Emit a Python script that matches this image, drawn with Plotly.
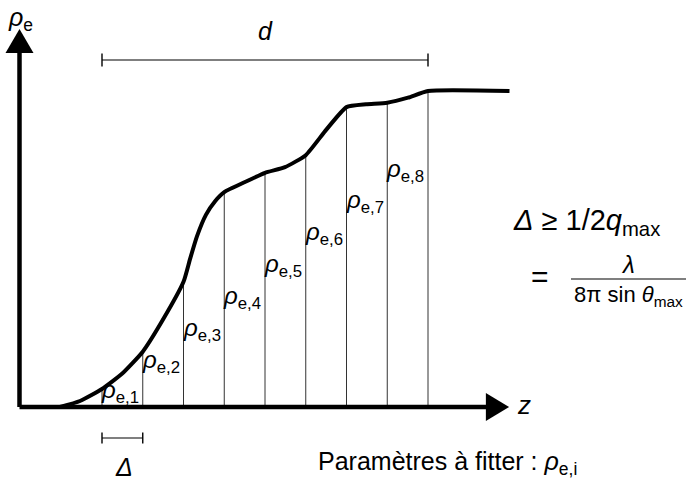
import plotly.graph_objects as go

# ---------------- data (z in slice units, rho normalised to plateau) ----------------
z_curve = [-1.03, -0.54, 0.0, 0.49, 1.0, 1.49, 2.0, 2.16, 2.33, 2.55, 2.78, 3.0,
           3.51, 4.0, 4.49, 5.0, 5.50, 6.0, 6.48, 7.0, 7.51, 8.0, 10.0]
rho_curve = [0.0, 0.019, 0.057, 0.105, 0.175, 0.275, 0.396, 0.468, 0.540, 0.608,
             0.652, 0.680, 0.712, 0.741, 0.759, 0.797, 0.877, 0.949, 0.958, 0.963,
             0.979, 1.0, 1.0]
slice_bounds = [0, 1, 2, 3, 4, 5, 6, 7, 8]
slice_labels = ["e,1", "e,2", "e,3", "e,4", "e,5", "e,6", "e,7", "e,8"]

W, H = 688, 483
Z_PX0, Z_SCALE = 102.0, 40.75
R_PX0, R_SCALE = 407.0, 316.0
xr = [(0 - Z_PX0) / Z_SCALE, (W - Z_PX0) / Z_SCALE]
yr = [(R_PX0 - H) / R_SCALE, R_PX0 / R_SCALE]

def px(x):
    return x / W

def py(y):
    return 1 - y / H

FONT = "Liberation Sans, DejaVu Sans, sans-serif"

fig = go.Figure()

rho_at = dict(zip(z_curve, rho_curve))
vx, vy = [], []
for b in slice_bounds:
    vx += [b, b, None]
    vy += [0, rho_at[float(b)], None]
fig.add_trace(go.Scatter(x=vx, y=vy, mode="lines",
                         line=dict(color="#333333", width=1), hoverinfo="skip"))

fig.add_trace(go.Scatter(x=z_curve, y=rho_curve, mode="lines",
                         line=dict(color="black", width=4, shape="spline", smoothing=0.5),
                         hoverinfo="skip"))

shapes = []
z_axis = (19.5 - Z_PX0) / Z_SCALE
shapes.append(dict(type="line", xref="x", yref="y", x0=z_axis, x1=9.5, y0=0, y1=0,
                   line=dict(color="black", width=4.5)))
shapes.append(dict(type="line", xref="x", yref="y", x0=z_axis, x1=z_axis, y0=0, y1=1.13,
                   line=dict(color="black", width=4.5)))
ah_w = 14 / Z_SCALE
ah_h = 24 / R_SCALE
shapes.append(dict(type="path", xref="x", yref="y",
                   path=f"M {z_axis-ah_w} 1.12 L {z_axis+ah_w} 1.12 L {z_axis} {1.12+ah_h} Z",
                   fillcolor="black", line=dict(color="black", width=0)))
hw = 14 / R_SCALE
shapes.append(dict(type="path", xref="x", yref="y",
                   path=f"M 9.42 {-hw} L 9.42 {hw} L 9.99 0 Z",
                   fillcolor="black", line=dict(color="black", width=0)))
yd = (R_PX0 - 60) / R_SCALE
td = 6.5 / R_SCALE
shapes.append(dict(type="line", xref="x", yref="y", x0=slice_bounds[0], x1=slice_bounds[-1],
                   y0=yd, y1=yd, line=dict(color="black", width=1.2)))
for b in (slice_bounds[0], slice_bounds[-1]):
    shapes.append(dict(type="line", xref="x", yref="y", x0=b, x1=b, y0=yd - td, y1=yd + td,
                       line=dict(color="black", width=1.4)))
ydl = (R_PX0 - 438) / R_SCALE
tdl = 5.5 / R_SCALE
shapes.append(dict(type="line", xref="x", yref="y", x0=slice_bounds[0], x1=slice_bounds[1],
                   y0=ydl, y1=ydl, line=dict(color="black", width=1.2)))
for b in (slice_bounds[0], slice_bounds[1]):
    shapes.append(dict(type="line", xref="x", yref="y", x0=b, x1=b, y0=ydl - tdl, y1=ydl + tdl,
                       line=dict(color="black", width=1.4)))
shapes.append(dict(type="line", xref="paper", yref="paper", x0=px(571), x1=px(686),
                   y0=py(279), y1=py(279), line=dict(color="black", width=1.2)))

ann = []
def A(text, x, y, size, xanchor="center", yanchor="middle"):
    ann.append(dict(text=text, x=px(x), y=py(y), xref="paper", yref="paper",
                    xanchor=xanchor, yanchor=yanchor, showarrow=False,
                    font=dict(family=FONT, size=size, color="black")))

A("<i>ρ</i><sub>e</sub>", 20, 19, 25)
A("<i>d</i>", 265, 31, 25)
A("<i>z</i>", 524, 405, 26)
A("<i>Δ</i>", 124, 467, 25)
A("<i>Δ</i> ≥ 1/2<i>q</i><sub>max</sub>", 511, 222, 29, xanchor="left")
A("=", 540, 276, 30)
A("<i>λ</i>", 628, 264, 24)
A("8π sin <i>θ</i><sub>max</sub>", 628, 296, 22)
A("Paramètres à fitter : <i>ρ</i><sub>e,i</sub>", 316, 463, 25, xanchor="left")

label_y = [391, 361, 329, 297, 265, 233, 201, 170]
for i, lab in enumerate(slice_labels):
    xb = Z_PX0 + Z_SCALE * slice_bounds[i]
    A(f"<i>ρ</i><sub>{lab}</sub>", xb - 3, label_y[i], 24, xanchor="left")

fig.update_layout(
    width=W, height=H, margin=dict(l=0, r=0, t=0, b=0),
    paper_bgcolor="white", plot_bgcolor="white", showlegend=False,
    xaxis=dict(range=xr, visible=False, fixedrange=True),
    yaxis=dict(range=yr, visible=False, fixedrange=True),
    shapes=shapes, annotations=ann,
)
fig.write_html("out.html")
